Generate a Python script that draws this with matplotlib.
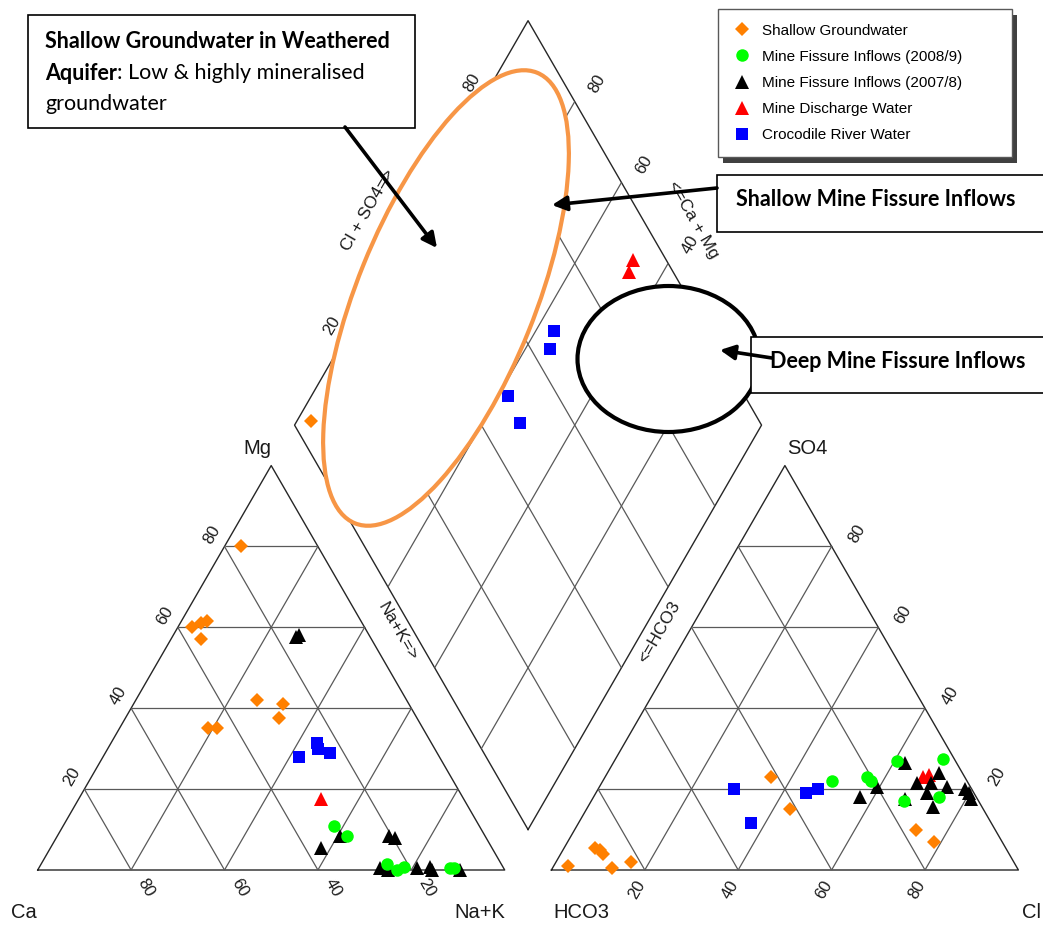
import matplotlib
matplotlib.use("Agg")
import matplotlib.pyplot as plt
from matplotlib.patches import Ellipse, Rectangle
from matplotlib.transforms import IdentityTransform
import numpy as np

# values, percent of meq/l
# cation triangle: Mg and Na+K (Ca is the rest)
sg_mg = [80, 60, 61, 61.5, 57, 42, 41, 37.5, 35, 35]
sg_na = [3.6, 3, 4.5, 5.5, 6.5, 26, 32, 33, 19, 21]
m09_mg = [11, 8.5, 1.5, 0, 0.8, 0.4, 0.4]
m09_na = [58, 62, 74, 77, 78, 88, 89]
m08_mg = [57.5, 58, 5.5, 8.5, 8.5, 8, 0.5, 0, 0.5, 0.8, 0, 0]
m08_na = [26.5, 27, 58, 60.5, 71, 72.5, 73, 75, 81, 83.5, 84.5, 90.5]
md_mg = [17.5]
md_na = [52]
cr_mg = [28, 31.5, 30, 29]
cr_na = [42, 44, 45, 48]

# anion triangle: SO4 and Cl (HCO3 is the rest)
sg_so4 = [1, 5.5, 5, 4, 0.5, 2, 23, 15, 10, 7]
sg_cl = [3, 6.5, 8, 9, 12.7, 16, 35.5, 43.5, 73, 78.5]
m09_so4 = [22, 23, 22, 27, 27.5, 17, 18]
m09_cl = [49, 56, 57.5, 60.5, 70, 67, 74]
m08_so4 = [18, 20.5, 26.5, 21.5, 21.5, 24, 20.5, 19, 15.5, 17.5, 20, 17.5, 19]
m08_cl = [57, 59.5, 62.5, 67.5, 70.5, 71, 74.5, 71, 74, 67, 78.5, 81, 80]
md_so4 = [23, 23.5]
md_cl = [68, 69]
cr_so4 = [20, 11.5, 19, 20]
cr_cl = [29, 37, 45, 47]

# diamond points left visible (Na+K, Cl+SO4)
sg_dna = [3]
sg_ds = [4]
md_dna = [52.1, 52.6]
md_ds = [92.9, 90.5]
cr_dna = [43.9, 45.4, 42, 47.9]
cr_ds = [67.1, 64.2, 49.2, 48.5]

group_names = ["Shallow Groundwater", "Mine Fissure Inflows (2008/9)",
               "Mine Fissure Inflows (2007/8)", "Mine Discharge Water",
               "Crocodile River Water"]
ticks = [20, 40, 60, 80]

H = np.sqrt(3) / 2
OFF = 110  # x offset of the anion triangle


def cat_xy(mg, na):
    mg, na = np.asarray(mg, float), np.asarray(na, float)
    return na + mg / 2, mg * H


def an_xy(so4, cl):
    so4, cl = np.asarray(so4, float), np.asarray(cl, float)
    return OFF + cl + so4 / 2, so4 * H


def dia_xy(na, s):
    na, s = np.asarray(na, float), np.asarray(s, float)
    return (na + OFF + s) / 2, H * (OFF + s - na)


W, HT = 1043, 925
PX = 4.67
X0, Y0 = 37.7, 870.0
fig = plt.figure(figsize=(W / 100, HT / 100), dpi=100)
ax = fig.add_axes([0, 0, 1, 1])
ax.set_xlim(-X0 / PX, (W - X0) / PX)
ax.set_ylim(-(HT - Y0) / PX, Y0 / PX)
ax.axis("off")


def P(xp, yp):
    # position in picture pixels -> axes units
    return (xp - X0) / PX, (Y0 - yp) / PX


def seg(p, q, **kw):
    ax.plot([p[0], q[0]], [p[1], q[1]], solid_capstyle="butt", **kw)


grid_kw = dict(color="0.35", lw=0.9, zorder=1)
edge_kw = dict(color="0.15", lw=1.0, zorder=1)

# triangles
for off in (0, OFF):
    ax.plot([off, off + 100, off + 50, off], [0, 0, 100 * H, 0], **edge_kw)
    for i in ticks:
        seg((off + i / 2, i * H), (off + 100 - i / 2, i * H), **grid_kw)
        seg((off + i, 0), (off + (100 + i) / 2, (100 - i) * H), **grid_kw)
        seg((off + i, 0), (off + i / 2, i * H), **grid_kw)

# diamond
corners = [dia_xy(100, 0), dia_xy(0, 0), dia_xy(0, 100), dia_xy(100, 100), dia_xy(100, 0)]
ax.plot([c[0] for c in corners], [c[1] for c in corners], **edge_kw)
for i in ticks:
    seg(dia_xy(i, 0), dia_xy(i, 100), **grid_kw)
    seg(dia_xy(0, i), dia_xy(100, i), **grid_kw)

# tick labels
fam = ["Liberation Sans", "DejaVu Sans"]
tk = dict(family=fam, fontsize=12, ha="center", va="center", color="0.1", zorder=4)
for v in ticks:
    ax.text(v + 3.2, -3.85, str(100 - v), rotation=-60, **tk)
    ax.text(v / 2 - 2.68, v * H + 2.57, str(v), rotation=60, **tk)
    ax.text(OFF + v - 1.71, -4.28, str(v), rotation=60, **tk)
    ax.text(OFF + 100 - v / 2 + 5.35, v * H + 2.68, str(v), rotation=60, **tk)
for v in (20, 80):
    x, y = dia_xy(0, v)
    ax.text(x - 1.95, y + 4.07, str(v), rotation=60, **tk)
for v in (40, 60, 80):
    x, y = dia_xy(100 - v, 100)
    ax.text(x + 4.85, y + 3.9, str(v), rotation=60, **tk)

ax_kw = dict(family=fam, fontsize=12.5, ha="center", va="center", color="0.1", zorder=4)
ax.text(*P(398, 632), "Na+K=>", rotation=-60, **ax_kw)
ax.text(*P(659, 632), "<=HCO3", rotation=60, **ax_kw)
ax.text(*P(368, 210), "Cl + SO4=>", rotation=60, **ax_kw)
ax.text(*P(693, 220), "<=Ca + Mg", rotation=-60, **ax_kw)

cn = dict(family=fam, fontsize=14.5, va="center", color="0.1")
ax.text(*P(271, 449), "Mg", ha="right", **cn)
ax.text(*P(787, 449), "SO4", ha="left", **cn)
ax.text(*P(11, 913), "Ca", ha="left", **cn)
ax.text(*P(505, 913), "Na+K", ha="right", **cn)
ax.text(*P(553, 913), "HCO3", ha="left", **cn)
ax.text(*P(1022, 913), "Cl", ha="left", **cn)

# samples
styles = [
    ("D", "#FF8000", 7.3),
    ("o", "#00FF00", 9),
    ("^", "black", 10),
    ("^", "#FF0000", 10),
    ("s", "#0000FF", 9),
]
cats = [(sg_mg, sg_na), (m09_mg, m09_na), (m08_mg, m08_na), (md_mg, md_na), (cr_mg, cr_na)]
ans = [(sg_so4, sg_cl), (m09_so4, m09_cl), (m08_so4, m08_cl), (md_so4, md_cl), (cr_so4, cr_cl)]
dias = [(sg_dna, sg_ds), ([], []), ([], []), (md_dna, md_ds), (cr_dna, cr_ds)]

handles = [None] * 5
for k in [0, 4, 3, 2, 1]:
    mk, col, ms = styles[k]
    kw = dict(ls="none", marker=mk, color=col, ms=ms, mew=0, zorder=2.5)
    h, = ax.plot(*cat_xy(*cats[k]), **kw)
    ax.plot(*an_xy(*ans[k]), **kw)
    if len(dias[k][0]):
        ax.plot(*dia_xy(*dias[k]), **kw)
    handles[k] = h

# interpretation ellipses
ax.add_patch(Ellipse(P(446, 298), 486 / PX, 178 / PX, angle=68, facecolor="white",
                     edgecolor="#F79646", lw=3, zorder=3))
ax.add_patch(Ellipse(P(668.5, 359), 182 / PX, 146 / PX, facecolor="white",
                     edgecolor="black", lw=3, zorder=3))

# callout boxes
bf = dict(family=["Lato", "DejaVu Sans"], fontsize=15.5, color="black", zorder=7)


def box(x0, y0, x1, y1):
    (a, b), (c, d) = P(x0, y1), P(x1, y0)
    ax.add_patch(Rectangle((a, b), c - a, d - b, facecolor="white",
                           edgecolor="black", lw=1.2, zorder=6))


def arrow(tail, head):
    ax.annotate("", xy=P(*head), xytext=P(*tail),
                arrowprops=dict(arrowstyle="-|>", color="black", lw=2.6,
                                mutation_scale=22, shrinkA=0, shrinkB=0),
                zorder=7)


box(28, 15, 415, 128)
ax.text(*P(45, 41), "Shallow Groundwater in Weathered", weight="bold", va="center", **bf)
t2 = ax.text(*P(45, 73), "Aquifer", weight="bold", va="center", **bf)
ax.annotate(": Low & highly mineralised", xy=(1, 0.5), xycoords=t2, va="center", ha="left", **bf)
ax.text(*P(45, 104), "groundwater", va="center", **bf)
arrow((345, 127), (437, 248))

box(717, 175, 1060, 232)
ax.text(*P(736, 200), "Shallow Mine Fissure Inflows", weight="bold", va="center", **bf)
arrow((717, 188), (552, 205))

box(751, 337, 1060, 393)
arrow((772, 358), (720, 350))
ax.text(*P(770, 361), "Deep Mine Fissure Inflows", weight="bold", va="center", **bf)

# legend with a drop shadow
leg = fig.legend(handles, group_names, loc="upper left",
                 bbox_to_anchor=(718 / W, 0, 294 / W, 1 - 9 / HT), mode="expand",
                 borderaxespad=0, prop={"family": fam, "size": 11}, frameon=True,
                 fancybox=False, edgecolor="0.35", framealpha=1, borderpad=0.95,
                 handlelength=1.3, handletextpad=0.6, labelspacing=0.8)
leg.get_frame().set_linewidth(1.0)
leg.set_zorder(10)
fig.canvas.draw()
bb = leg.get_window_extent()
fig.add_artist(Rectangle((bb.x0 + 5, bb.y0 - 6), bb.width, bb.height,
                         transform=IdentityTransform(), facecolor="0.25",
                         edgecolor="none", zorder=9))

fig.savefig("out.png", dpi=100)
